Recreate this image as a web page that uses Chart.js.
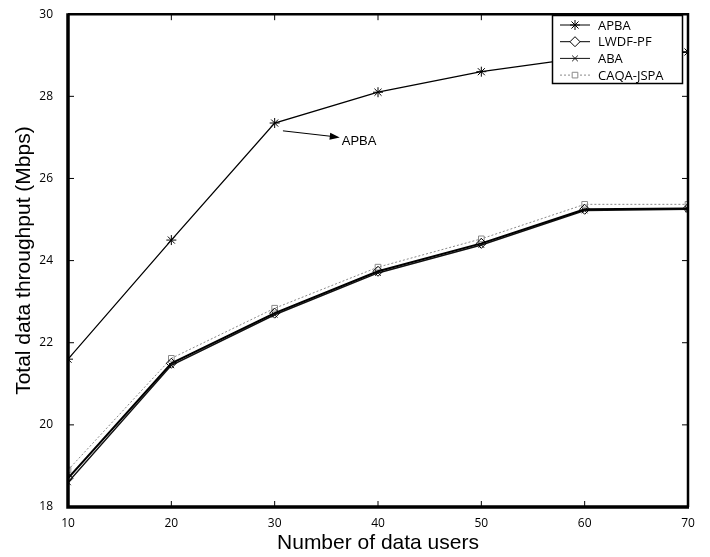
<!DOCTYPE html>
<html>
<head>
<meta charset="utf-8">
<script src="https://cdn.jsdelivr.net/npm/chart.js@4.4.1/dist/chart.umd.min.js"></script>
<style>
  html, body { margin: 0; padding: 0; background: #fff; }
  #wrap { width: 710px; height: 557px; }
</style>
</head>
<body>
<div id="wrap"><canvas id="throughputChart" width="710" height="557"></canvas></div>
<script>
// values
let users = [10, 20, 30, 40, 50, 60, 70];
let apba = [21.6, 24.5, 27.35, 28.1, 28.6, 28.95, 29.08];
let lwdf = [18.7, 21.5, 22.72, 23.74, 24.42, 25.25, 25.27];
let aba = [18.6, 21.45, 22.68, 23.7, 24.38, 25.22, 25.25];
let caqa = [18.9, 21.62, 22.84, 23.84, 24.53, 25.37, 25.37];
let seriesNames = ['APBA', 'LWDF-PF', 'ABA', 'CAQA-JSPA'];
let xTicks = [10, 20, 30, 40, 50, 60, 70];
let yTicks = [18, 20, 22, 24, 26, 28, 30];

var ctx = document.getElementById('throughputChart').getContext('2d');

const toPoints = (vals) => users.map((u, i) => ({ x: u, y: vals[i] }));

// thick box + inward ticks, like the matlab axes
const frame = {
  id: 'frame',
  afterDatasetsDraw(chart) {
    const c = chart.ctx;
    const a = chart.chartArea;
    const xs = chart.scales.x, ys = chart.scales.y;
    c.save();
    c.strokeStyle = '#000';
    c.lineWidth = 1;
    xTicks.forEach(t => {
      let px = xs.getPixelForValue(t);
      c.beginPath(); c.moveTo(px, a.bottom); c.lineTo(px, a.bottom - 6); c.stroke();
      c.beginPath(); c.moveTo(px, a.top); c.lineTo(px, a.top + 6); c.stroke();
    });
    yTicks.forEach(t => {
      let py = ys.getPixelForValue(t);
      c.beginPath(); c.moveTo(a.left, py); c.lineTo(a.left + 6, py); c.stroke();
      c.beginPath(); c.moveTo(a.right, py); c.lineTo(a.right - 6, py); c.stroke();
    });
    c.lineWidth = 2.5;
    c.beginPath();
    c.moveTo(a.left, a.top); c.lineTo(a.right, a.top); c.lineTo(a.right, a.bottom);
    c.stroke();
    c.lineWidth = 3.5;
    c.beginPath();
    c.moveTo(a.left, a.top - 1); c.lineTo(a.left, a.bottom); c.lineTo(a.right + 1, a.bottom);
    c.stroke();

    // annotation arrow
    let x0 = xs.getPixelForValue(30.8), y0 = ys.getPixelForValue(27.16);
    let x1 = xs.getPixelForValue(36.3), y1 = ys.getPixelForValue(27.0);
    c.lineWidth = 1;
    c.beginPath(); c.moveTo(x0, y0); c.lineTo(x1 - 8, y1 - 1); c.stroke();
    let ang = Math.atan2(y1 - y0, x1 - x0);
    c.fillStyle = '#000';
    c.beginPath();
    c.moveTo(x1, y1);
    c.lineTo(x1 - 10 * Math.cos(ang) + 3.5 * Math.sin(ang), y1 - 10 * Math.sin(ang) - 3.5 * Math.cos(ang));
    c.lineTo(x1 - 10 * Math.cos(ang) - 3.5 * Math.sin(ang), y1 - 10 * Math.sin(ang) + 3.5 * Math.cos(ang));
    c.closePath(); c.fill();
    c.font = '13px "Liberation Sans", Arial, sans-serif';
    c.textBaseline = 'middle';
    c.textAlign = 'left';
    c.fillText('APBA', x1 + 2, y1 + 4);

    // legend box
    let lx = 552, ly = 15, lw = 130, lh = 68;
    c.fillStyle = '#fff';
    c.fillRect(lx, ly, lw, lh);
    c.lineWidth = 1.5;
    c.strokeStyle = '#000';
    c.strokeRect(lx + 0.5, ly + 0.5, lw, lh);
    c.font = '13px "Open Sans", "Liberation Sans", sans-serif';
    chart.data.datasets.forEach((ds, i) => {
      let yy = ly + 10 + i * 16.7;
      c.save();
      c.strokeStyle = ds.borderColor;
      c.lineWidth = 1;
      c.setLineDash(ds.borderDash || []);
      c.beginPath(); c.moveTo(lx + 8, yy); c.lineTo(lx + 38, yy); c.stroke();
      c.setLineDash([]);
      c.fillStyle = '#fff';
      c.strokeStyle = ds.pointBorderColor;
      c.lineWidth = 1;
      Chart.helpers.drawPoint(c, {
        pointStyle: ds.pointStyle,
        radius: ds.pointRadius,
        borderWidth: 1
      }, lx + 23, yy);
      c.restore();
      c.fillStyle = '#000';
      c.fillText(ds.label, lx + 46, yy + 1);
    });
    c.restore();
  }
};

const mkSet = (label, vals, color, style, width, dash, radius) => ({
  label: label,
  data: toPoints(vals),
  borderColor: color,
  backgroundColor: '#fff',
  borderWidth: width,
  borderDash: dash,
  pointStyle: style,
  pointRadius: radius,
  pointBorderWidth: 1,
  pointBorderColor: color,
  pointBackgroundColor: 'rgba(255,255,255,0)',
  tension: 0
});

var myChart = new Chart(ctx, {
  type: 'line',
  data: {
    datasets: [
      mkSet(seriesNames[0], apba, '#000', 'star', 1.3, [], 5),
      mkSet(seriesNames[1], lwdf, '#000', 'rectRot', 2, [], 5),
      mkSet(seriesNames[2], aba, '#111', 'crossRot', 1.5, [], 4),
      mkSet(seriesNames[3], caqa, '#8a8a8a', 'rect', 1, [2, 2], 4)
    ]
  },
  options: {
    responsive: false,
    animation: false,
    layout: { padding: { top: 12, right: 22, left: 12, bottom: 0 } },
    plugins: {
      legend: { display: false },
      tooltip: { enabled: false }
    },
    scales: {
      x: {
        type: 'linear',
        min: 10, max: 70,
        afterFit: s => { s.height = 50; },
        afterBuildTicks: s => { s.ticks = xTicks.map(v => ({ value: v })); },
        grid: { display: false },
        border: { display: false },
        ticks: {
          color: '#000',
          padding: 1,
          font: { family: '"Open Sans", "Liberation Sans", sans-serif', size: 12 }
        },
        title: {
          display: true,
          text: 'Number of data users',
          color: '#000',
          padding: { top: 0, bottom: 1 },
          font: { family: '"Liberation Sans", Arial, sans-serif', size: 21 }
        }
      },
      y: {
        type: 'linear',
        min: 18, max: 30,
        afterFit: s => { s.width = 56; },
        afterBuildTicks: s => { s.ticks = yTicks.map(v => ({ value: v })); },
        grid: { display: false },
        border: { display: false },
        ticks: {
          color: '#000',
          padding: 7,
          font: { family: '"Open Sans", "Liberation Sans", sans-serif', size: 12 }
        },
        title: {
          display: true,
          text: 'Total data throughput (Mbps)',
          color: '#000',
          padding: { top: 0, bottom: 0 },
          font: { family: '"Liberation Sans", Arial, sans-serif', size: 21 }
        }
      }
    }
  },
  plugins: [frame]
});
</script>
</body>
</html>
